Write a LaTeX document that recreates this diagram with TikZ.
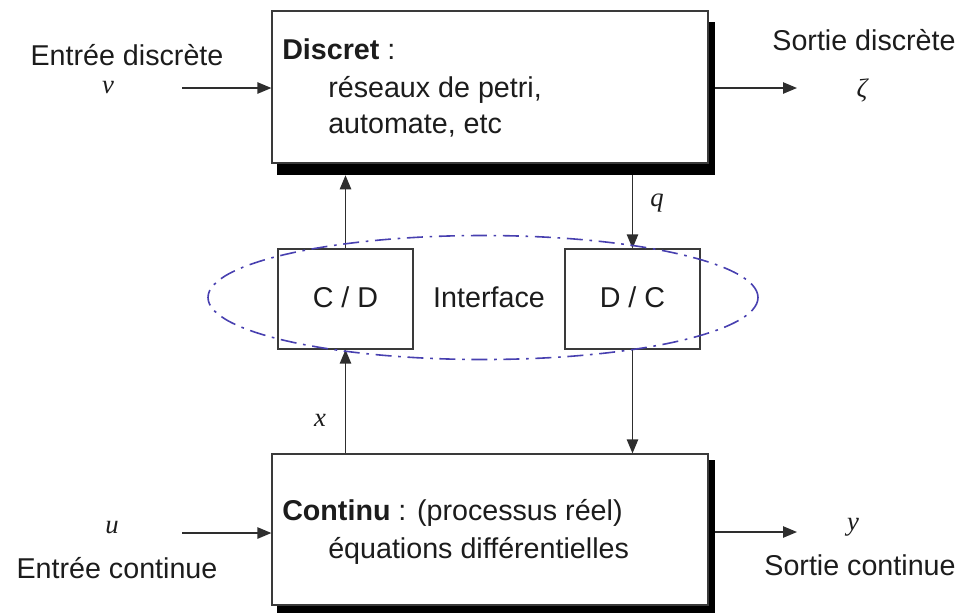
\documentclass[tikz,border=0pt]{standalone}
\usepackage{fontspec}
\setmainfont{Liberation Sans}
\newfontfamily\varfont{Liberation Serif}
\usetikzlibrary{arrows.meta}
\definecolor{boxgray}{HTML}{3A3A3A}
\definecolor{linegray}{HTML}{2E2E2E}
\definecolor{textblack}{HTML}{1C1C1C}
\definecolor{ifaceblue}{RGB}{72,64,176}
\begin{document}
\begin{tikzpicture}[x=0.75pt,y=-0.75pt,
  box/.style={draw=boxgray, line width=0.9pt, fill=white, inner sep=0pt},
  shade/.style={fill=black, draw=none, inner sep=0pt},
  link/.style={draw=linegray, line width=1.1pt, -{Triangle[length=10.5pt,width=8.5pt]}},
  txt/.style={font=\fontsize{21.5}{26}\selectfont, inner sep=0pt, text=textblack},
  var/.style={font=\varfont\itshape\fontsize{20}{24}\selectfont, inner sep=0pt, text=textblack},
  iface/.style={draw=ifaceblue, line width=1.2pt, dash pattern=on 12pt off 5pt on 2pt off 5pt}
]
\useasboundingbox (0,0) rectangle (963,612);

% shadows behind the two main blocks
\node[shade, minimum width=328.5pt, minimum height=114.75pt] (discsh) at (496,98.5) {};
\node[shade, minimum width=328.5pt, minimum height=116.25pt] (contsh) at (496,537.5) {};

% main blocks
\node[box, minimum width=327pt, minimum height=114pt] (disc) at (490,87) {};
\node[box, minimum width=327pt, minimum height=113.25pt] (cont) at (490,529.5) {};

% interface converters
\node[box, minimum width=101.25pt, minimum height=75pt] (cd) at (345.5,299) {};
\node[box, minimum width=101.25pt, minimum height=75pt] (dc) at (632.5,299) {};

% signal connections
\coordinate (vin) at (182,88);
\coordinate (zout) at (797,88);
\coordinate (uin) at (182,533);
\coordinate (yout) at (797,532);
\draw[link] (vin) -- (disc.west |- vin);
\draw[link] (discsh.east |- zout) -- (zout);
\draw[link] (uin) -- (cont.west |- uin);
\draw[link] (contsh.east |- yout) -- (yout);
\draw[link] (cd.north) -- (cd.north |- discsh.south);
\draw[link] (dc.north |- discsh.south) -- (dc.north);
\draw[link] (cd.south |- cont.north) -- (cd.south);
\draw[link] (dc.south) -- (dc.south |- cont.north);

% interface boundary
\draw[iface] (483,297.5) ellipse [x radius=206.25pt, y radius=46.5pt];

% block texts
\node[txt, anchor=base west] (dt1) at (282,59) {\textbf{Discret} :};
\node[txt, anchor=base west] (dt2) at (328,97) {réseaux de petri,};
\node[txt, anchor=base west] (dt3) at (328,133) {automate, etc};
\node[txt, anchor=base west] (ct1) at (282,520) {\textbf{Continu} : (processus réel)};
\node[txt, anchor=base west] (ct2) at (328,558) {équations différentielles};
\node[txt] (cdt) at (345.5,297) {C / D};
\node[txt] (dct) at (632.5,297) {D / C};
\node[txt] (itf) at (489,297) {Interface};

% external signals
\node[txt, anchor=base] (inD) at (127,65) {Entrée discrète};
\node[var] (v) at (108,88) {v};
\node[txt, anchor=base] (outD) at (864,50) {Sortie discrète};
\node[var] (zeta) at (862,90) {ζ};
\node[var] (u) at (112,528) {u};
\node[txt, anchor=base] (inC) at (117,578) {Entrée continue};
\node[var] (yv) at (853,527) {y};
\node[txt, anchor=base] (outC) at (860,575) {Sortie continue};
\node[var] (q) at (657,203) {q};
\node[var] (xv) at (320,420) {x};
\end{tikzpicture}
\end{document}
